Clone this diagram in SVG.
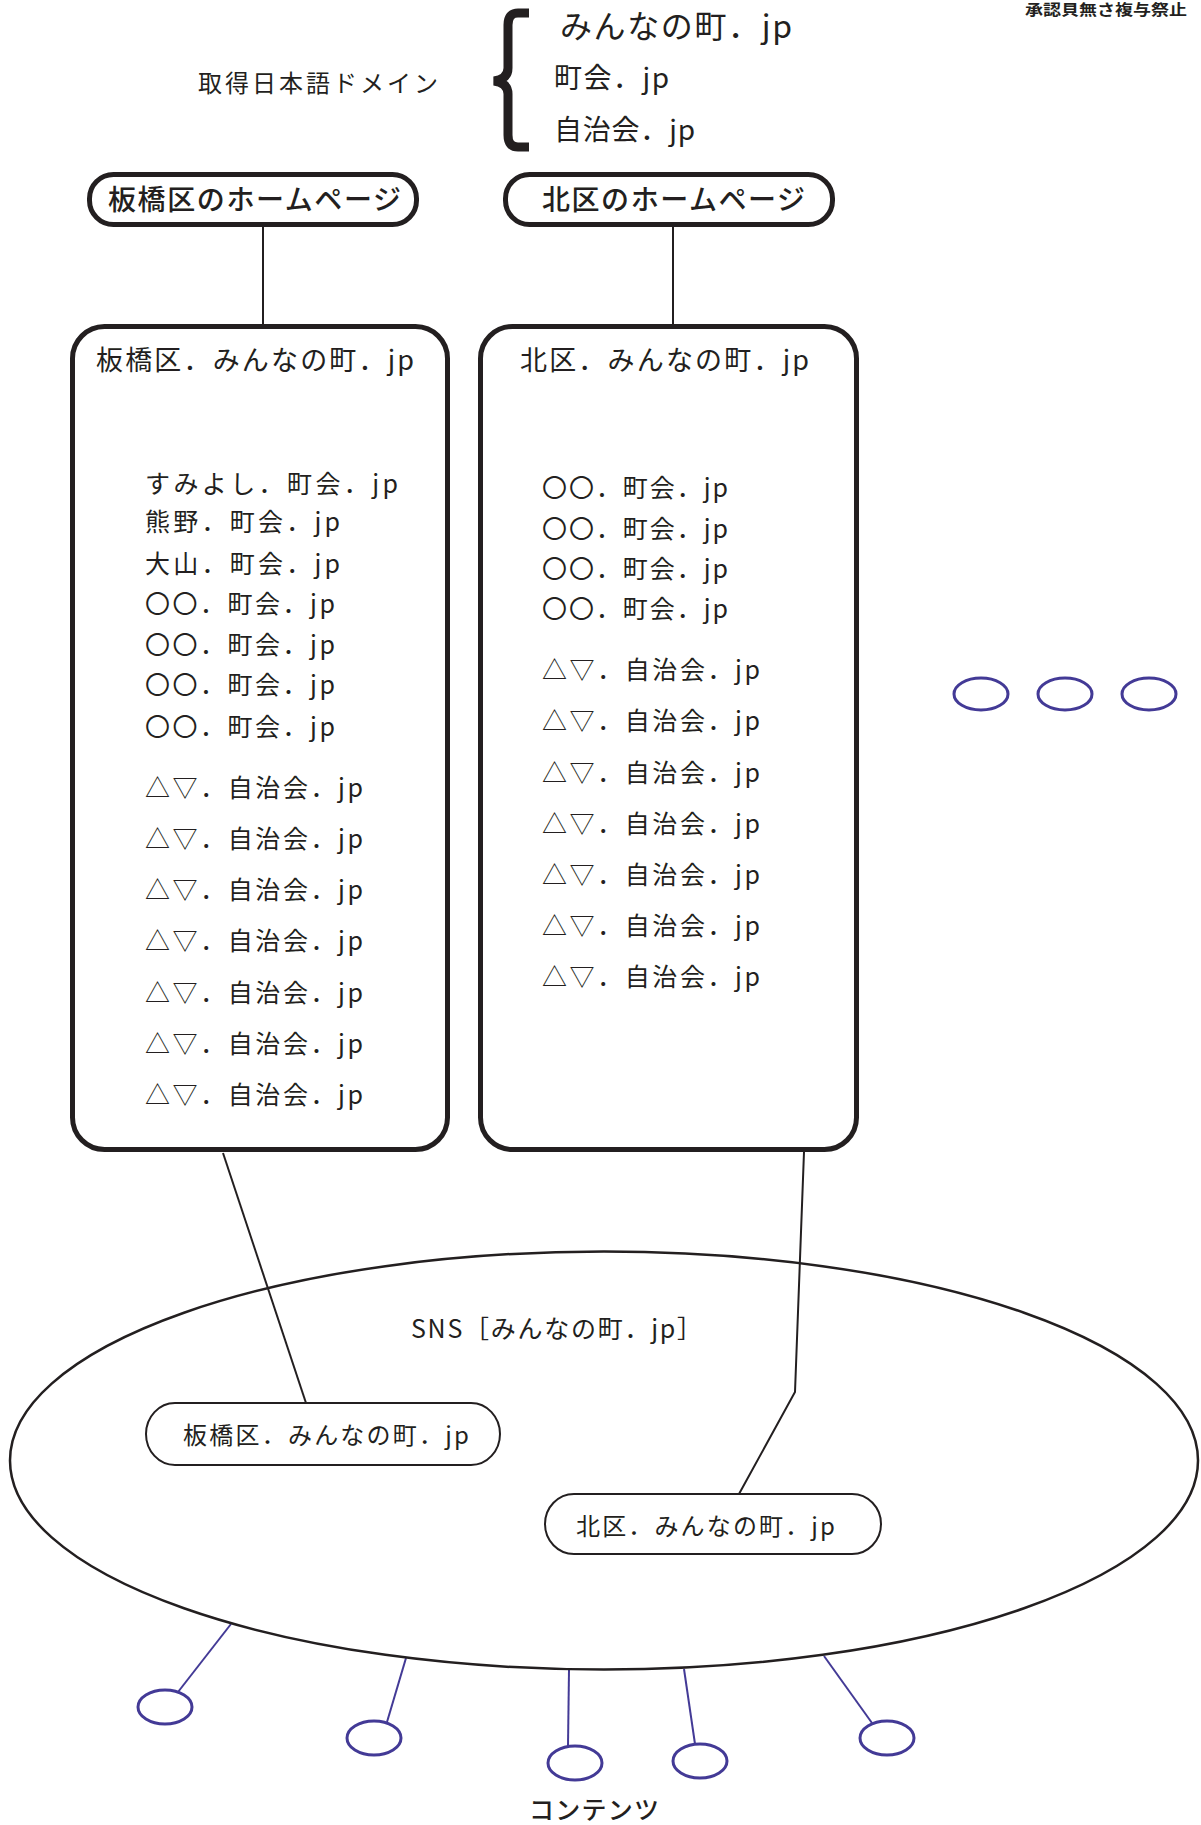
<svg xmlns="http://www.w3.org/2000/svg" width="1201" height="1825" viewBox="0 0 1201 1825">
<style>
text{font-family:"Noto Sans CJK JP","Noto Sans",sans-serif;fill:#231f20;}
.thick{stroke-width:5;fill:#fff;stroke:#231f20;}
.thin{stroke-width:2;fill:#fff;stroke:#231f20;}
.blue{stroke:#433a96;stroke-width:3;fill:#fff;}
.bl{stroke:#433a96;stroke-width:2;fill:none;}
.con{stroke:#231f20;stroke-width:2;fill:none;}
.it{font-size:25px;}
</style>
<text x="1025" y="15" font-size="15" font-weight="bold" textLength="162" lengthAdjust="spacingAndGlyphs">承認貝無さ複与祭止</text>
<g id="domains">
<text x="198" y="92" font-size="24" textLength="240" lengthAdjust="spacing">取得日本語ドメイン</text>
<path d="M529 13 L518 13 Q508 13 508 25 L508 68 Q508 79 494 81 Q508 83 508 94 L508 135 Q508 147 518 147 L529 147" stroke="#231f20" stroke-width="9" fill="none"/>
<text x="560" y="38" font-size="32" textLength="232" lengthAdjust="spacing">みんなの町．jp</text>
<text x="554" y="88" font-size="28" textLength="115" lengthAdjust="spacing">町会．jp</text>
<text x="554" y="140" font-size="28" textLength="141" lengthAdjust="spacing">自治会．jp</text>
</g>
<g id="connectors">
<line class="con" x1="263" y1="227" x2="263" y2="325"/>
<line class="con" x1="673" y1="227" x2="673" y2="325"/>
<line class="con" x1="223" y1="1153" x2="306" y2="1403"/>
<polyline class="con" points="804,1152 795,1392 739,1494"/>
<line class="bl" x1="231" y1="1624" x2="178" y2="1692"/>
<line class="bl" x1="406" y1="1658" x2="387" y2="1722"/>
<line class="bl" x1="569" y1="1670" x2="568" y2="1746"/>
<line class="bl" x1="684" y1="1669" x2="695" y2="1744"/>
<line class="bl" x1="824" y1="1656" x2="872" y2="1723"/>
</g>
<g id="hp-itabashi">
<rect class="thick" x="89.5" y="174.5" width="327" height="50" rx="24" ry="24"/>
<text x="108" y="210" font-size="28" font-weight="500" textLength="293" lengthAdjust="spacing">板橋区のホームページ</text>
</g>
<g id="hp-kita">
<rect class="thick" x="505.5" y="174.5" width="327" height="50" rx="24" ry="24"/>
<text x="542" y="210" font-size="28" font-weight="500" textLength="263" lengthAdjust="spacing">北区のホームページ</text>
</g>
<g id="box-itabashi">
<rect class="thick" x="72.5" y="326.5" width="375" height="823" rx="32" ry="32"/>
<text x="96" y="370" font-size="27" textLength="318" lengthAdjust="spacing">板橋区．みんなの町．jp</text>
<g class="it">
<text x="145" y="493" textLength="253" lengthAdjust="spacing">すみよし．町会．jp</text>
<text x="145" y="531" textLength="195" lengthAdjust="spacing">熊野．町会．jp</text>
<text x="145" y="573" textLength="195" lengthAdjust="spacing">大山．町会．jp</text>
<text x="145" y="613" textLength="190" lengthAdjust="spacing">〇〇．町会．jp</text>
<text x="145" y="654" textLength="190" lengthAdjust="spacing">〇〇．町会．jp</text>
<text x="145" y="694" textLength="190" lengthAdjust="spacing">〇〇．町会．jp</text>
<text x="145" y="736" textLength="190" lengthAdjust="spacing">〇〇．町会．jp</text>
<text x="145" y="797" textLength="218" lengthAdjust="spacing">△▽．自治会．jp</text>
<text x="145" y="848" textLength="218" lengthAdjust="spacing">△▽．自治会．jp</text>
<text x="145" y="899" textLength="218" lengthAdjust="spacing">△▽．自治会．jp</text>
<text x="145" y="950" textLength="218" lengthAdjust="spacing">△▽．自治会．jp</text>
<text x="145" y="1002" textLength="218" lengthAdjust="spacing">△▽．自治会．jp</text>
<text x="145" y="1053" textLength="218" lengthAdjust="spacing">△▽．自治会．jp</text>
<text x="145" y="1104" textLength="218" lengthAdjust="spacing">△▽．自治会．jp</text>
</g>
</g>
<g id="box-kita">
<rect class="thick" x="480.5" y="326.5" width="376" height="823" rx="32" ry="32"/>
<text x="520" y="370" font-size="27" textLength="289" lengthAdjust="spacing">北区．みんなの町．jp</text>
<g class="it">
<text x="542" y="497" textLength="186" lengthAdjust="spacing">〇〇．町会．jp</text>
<text x="542" y="538" textLength="186" lengthAdjust="spacing">〇〇．町会．jp</text>
<text x="542" y="578" textLength="186" lengthAdjust="spacing">〇〇．町会．jp</text>
<text x="542" y="618" textLength="186" lengthAdjust="spacing">〇〇．町会．jp</text>
<text x="542" y="679" textLength="218" lengthAdjust="spacing">△▽．自治会．jp</text>
<text x="542" y="730" textLength="218" lengthAdjust="spacing">△▽．自治会．jp</text>
<text x="542" y="782" textLength="218" lengthAdjust="spacing">△▽．自治会．jp</text>
<text x="542" y="833" textLength="218" lengthAdjust="spacing">△▽．自治会．jp</text>
<text x="542" y="884" textLength="218" lengthAdjust="spacing">△▽．自治会．jp</text>
<text x="542" y="935" textLength="218" lengthAdjust="spacing">△▽．自治会．jp</text>
<text x="542" y="986" textLength="218" lengthAdjust="spacing">△▽．自治会．jp</text>
</g>
</g>
<g id="more">
<ellipse class="blue" cx="981" cy="694" rx="27" ry="16"/>
<ellipse class="blue" cx="1065" cy="694" rx="27" ry="16"/>
<ellipse class="blue" cx="1149" cy="694" rx="27" ry="16"/>
</g>
<g id="sns">
<ellipse cx="604" cy="1460.5" rx="594" ry="209" fill="none" stroke="#231f20" stroke-width="2.5"/>
<text x="411" y="1338" font-size="25" textLength="291" lengthAdjust="spacing">SNS［みんなの町．jp］</text>
</g>
<g id="sns-itabashi">
<rect class="thin" x="146" y="1403" width="354" height="62" rx="29" ry="31"/>
<text x="183" y="1444" font-size="24" textLength="286" lengthAdjust="spacing">板橋区．みんなの町．jp</text>
</g>
<g id="sns-kita">
<rect class="thin" x="545" y="1494" width="336" height="60" rx="29" ry="30"/>
<text x="576" y="1535" font-size="24" textLength="259" lengthAdjust="spacing">北区．みんなの町．jp</text>
</g>
<g id="contents">
<ellipse class="blue" cx="165" cy="1707" rx="27" ry="17"/>
<ellipse class="blue" cx="374" cy="1738" rx="27" ry="17"/>
<ellipse class="blue" cx="575" cy="1763" rx="27" ry="17"/>
<ellipse class="blue" cx="700" cy="1761" rx="27" ry="17"/>
<ellipse class="blue" cx="887" cy="1738" rx="27" ry="17"/>
<text x="529" y="1819" font-size="25" font-weight="500" textLength="130" lengthAdjust="spacing">コンテンツ</text>
</g>
</svg>
